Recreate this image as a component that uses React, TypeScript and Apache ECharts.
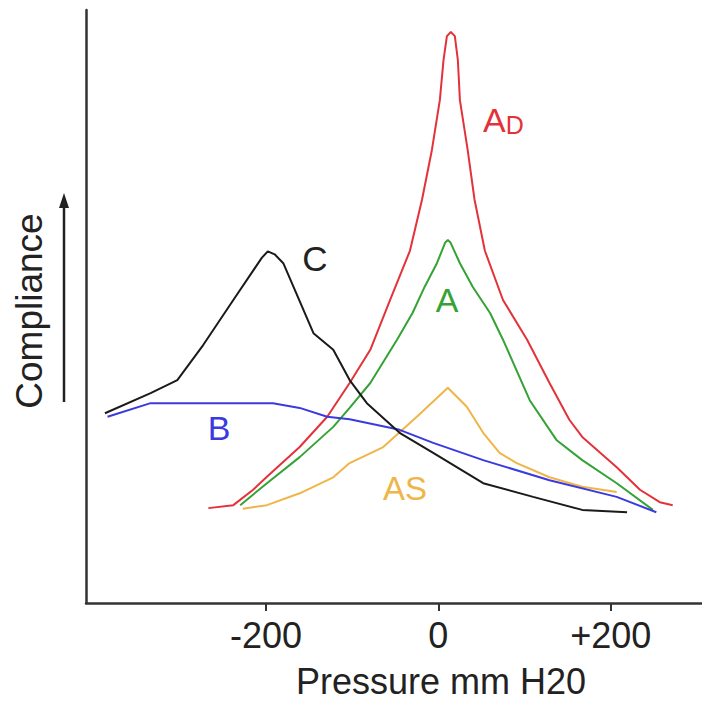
import React, { useEffect, useRef } from "react";
import * as echarts from "echarts";

// Pressure (mm H2O) vs relative compliance (arbitrary units 0–100)
const curveAD: number[][] = [
  [-267, 16.0], [-238, 16.5], [-215, 19.1], [-199, 21.3], [-161, 26.3], [-129, 31.4],
  [-103, 37.1], [-79, 42.7], [-56, 51.1], [-33, 59.4], [-19, 68.0], [-7.5, 76.4],
  [1.7, 84.8], [6, 91.6], [9.9, 95.6], [14.5, 96.3], [19.1, 95.6], [22.6, 91.6],
  [25, 84.8], [34, 76.4], [42, 68.0], [54, 59.4], [75, 51.1], [103, 44.4],
  [129, 37.1], [152, 30.9], [167, 28.0], [207, 22.9], [234, 19.1], [257, 17.0],
  [272, 16.5],
];
const curveA: number[][] = [
  [-230, 16.5], [-199, 20.2], [-161, 24.6], [-122, 29.7], [-103, 32.9], [-79, 37.1],
  [-48, 44.4], [-30, 48.9], [-16, 53.3], [-1.7, 57.3], [8, 60.8], [11, 61.2], [14, 60.8],
  [25, 57.3], [40, 53.3], [60, 48.9], [75, 44.4], [106, 34.2], [137, 27.5], [167, 24.1],
  [207, 20.2], [249, 15.7],
];
const curveAS: number[][] = [
  [-227, 15.9], [-199, 16.5], [-161, 18.5], [-122, 21.2], [-103, 23.6], [-64, 26.3],
  [-25, 31.4], [11, 36.3], [33, 33.1], [52, 28.7], [71, 25.3], [91, 23.6],
  [129, 21.2], [167, 19.6], [207, 18.7],
];
const curveC: number[][] = [
  [-387, 32.0], [-334, 35.4], [-303, 37.6], [-273, 43.5], [-238, 51.1], [-205, 58.2],
  [-198, 59.3], [-190, 58.8], [-180, 57.3], [-145, 45.5], [-122, 42.7], [-103, 37.6],
  [-83, 33.7], [-45, 28.7], [-6, 25.3], [52, 20.2], [110, 17.9], [167, 15.7], [219, 15.3],
];
const curveB: number[][] = [
  [-384, 31.4], [-334, 33.7], [-192, 33.7], [-161, 32.9], [-129, 31.4], [-103, 31.0],
  [-45, 29.2], [-6, 27.0], [52, 24.1], [129, 20.7], [207, 17.9], [253, 15.3],
];
const xTicks = [-200, 0, 200];

const FONT = "'Liberation Sans', Arial, sans-serif";

export default function App() {
  const ref = useRef<HTMLDivElement>(null);
  useEffect(() => {
    document.body.style.margin = "0";
    if (!ref.current) return;
    const chart = echarts.init(ref.current, undefined, { renderer: "svg" });
    const line = (name: string, data: number[][], color: string) => ({
      name,
      type: "line",
      data,
      showSymbol: false,
      symbol: "none",
      lineStyle: { color, width: 2 },
      z: 3,
    });
    chart.setOption({
      animation: false,
      backgroundColor: "#ffffff",
      grid: { left: 86, right: 0, top: 10, bottom: 98 },
      xAxis: {
        type: "value",
        min: -409,
        max: 306,
        axisLine: { show: true, onZero: false, lineStyle: { color: "#333", width: 2.5 } },
        axisTick: { show: true, customValues: xTicks, length: 8, lineStyle: { color: "#333", width: 2 } },
        axisLabel: {
          customValues: xTicks,
          fontSize: 36,
          fontFamily: FONT,
          color: "#222",
          margin: 14,
          formatter: (v: number) => (v > 0 ? "+" + v : String(v)),
        },
        splitLine: { show: false },
      },
      yAxis: {
        type: "value",
        min: 0,
        max: 100,
        axisLine: { show: true, onZero: false, lineStyle: { color: "#333", width: 2.5 } },
        axisTick: { show: false },
        axisLabel: { show: false },
        splitLine: { show: false },
      },
      series: [
        line("AD", curveAD, "#e3323a"),
        line("A", curveA, "#35a235"),
        line("AS", curveAS, "#f0b548"),
        line("B", curveB, "#3a3ae0"),
        line("C", curveC, "#1a1a1a"),
      ],
      graphic: [
        {
          type: "text", x: 441, y: 681,
          style: { text: "Pressure mm H20", fontSize: 36, fontFamily: FONT, fill: "#222", align: "center", verticalAlign: "middle" },
        },
        {
          type: "text", x: 29, y: 311, rotation: Math.PI / 2,
          style: { text: "Compliance", fontSize: 37, fontFamily: FONT, fill: "#222", align: "center", verticalAlign: "middle" },
        },
        { type: "line", shape: { x1: 64, y1: 402, x2: 64, y2: 200 }, style: { stroke: "#222", lineWidth: 2.5 } },
        { type: "polygon", shape: { points: [[64, 193], [59, 208], [69, 208]] }, style: { fill: "#222" } },
        {
          type: "text", x: 315, y: 258,
          style: { text: "C", fontSize: 35, fontFamily: FONT, fill: "#222", align: "center", verticalAlign: "middle" },
        },
        {
          type: "text", x: 447, y: 300,
          style: { text: "A", fontSize: 34, fontFamily: FONT, fill: "#35a235", align: "center", verticalAlign: "middle" },
        },
        {
          type: "text", x: 219, y: 428,
          style: { text: "B", fontSize: 34, fontFamily: FONT, fill: "#3a3ae0", align: "center", verticalAlign: "middle" },
        },
        {
          type: "text", x: 405, y: 488,
          style: { text: "AS", fontSize: 33, fontFamily: FONT, fill: "#f0b548", align: "center", verticalAlign: "middle" },
        },
        {
          type: "text", x: 483, y: 103,
          style: {
            text: "{a|A}{d|D}",
            fontFamily: FONT,
            fill: "#e3323a",
            rich: {
              a: { fontSize: 34, fontFamily: FONT, fill: "#e3323a", lineHeight: 34, verticalAlign: "top" },
              d: { fontSize: 25, fontFamily: FONT, fill: "#e3323a", lineHeight: 25, verticalAlign: "bottom", padding: [14, 0, 0, 0] },
            },
          },
        },
      ],
    });
    return () => chart.dispose();
  }, []);
  return <div ref={ref} style={{ width: 702, height: 701 }} />;
}
